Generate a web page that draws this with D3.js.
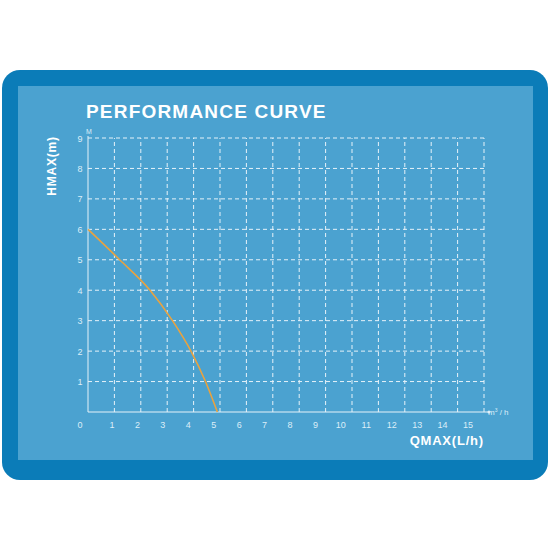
<!DOCTYPE html>
<html><head><meta charset="utf-8">
<script src="https://cdn.jsdelivr.net/npm/d3@7"></script>
<style>body{margin:0;background:#fff}</style>
</head><body>
<script>
let flow = [0, 1.2, 2.35, 3.2, 3.9, 4.45, 4.9];
let head = [6, 5, 4, 3, 2, 1, 0];
let xTicks = d3.range(0, 16);
let yTicks = d3.range(1, 10);

let svg = d3.select("body").append("svg").attr("width", 550).attr("height", 550);
svg.append("rect").attr("x", 2).attr("y", 70).attr("width", 546).attr("height", 410)
    .attr("rx", 18).attr("fill", "#0b7cb8");
svg.append("rect").attr("x", 18).attr("y", 86).attr("width", 515).attr("height", 374)
    .attr("fill", "#4ba2d0");

let x = d3.scaleLinear().domain([0, 15]).range([88, 484]);
let y = d3.scaleLinear().domain([0, 9]).range([412, 138]);
let xl = d3.scaleLinear().domain([1, 15]).range([112, 468]);
let g = svg.append("g");

g.selectAll(".vg").data(xTicks.slice(1)).enter().append("line")
    .attr("x1", d => x(d)).attr("x2", d => x(d)).attr("y1", y(0)).attr("y2", y(9))
    .attr("stroke", "#e6f2f9").attr("stroke-width", 1).attr("stroke-dasharray", "4,3");
g.selectAll(".hg").data(yTicks).enter().append("line")
    .attr("x1", x(0)).attr("x2", x(15)).attr("y1", d => y(d)).attr("y2", d => y(d))
    .attr("stroke", "#e6f2f9").attr("stroke-width", 1).attr("stroke-dasharray", "4,3");
g.append("line").attr("x1", x(0)).attr("x2", x(15) + 5).attr("y1", y(0)).attr("y2", y(0))
    .attr("stroke", "#e6f2f9");
g.append("line").attr("x1", x(0)).attr("x2", x(0)).attr("y1", y(0)).attr("y2", y(9) - 2)
    .attr("stroke", "#e6f2f9");
g.append("circle").attr("cx", x(15) + 5).attr("cy", y(0)).attr("r", 1.5).attr("fill", "#e6f2f9");

g.selectAll(".yl").data(yTicks).enter().append("text")
    .attr("x", 80).attr("y", d => y(d) + 3.5).attr("text-anchor", "middle")
    .attr("font-family", "Liberation Sans Narrow, Arial").attr("font-size", 9).attr("fill", "#dceef8")
    .text(d => d);
g.selectAll(".xl").data(xTicks).enter().append("text")
    .attr("x", d => d === 0 ? 80 : xl(d)).attr("y", 428).attr("text-anchor", "middle")
    .attr("font-family", "Liberation Sans Narrow, Arial").attr("font-size", 9).attr("fill", "#dceef8")
    .text(d => d);

let line = d3.line().x(d => x(d[0])).y(d => y(d[1])).curve(d3.curveMonotoneX);
g.append("path").datum(flow.map((f, i) => [f, head[i]])).attr("d", line)
    .attr("fill", "none").attr("stroke", "#e9a23f").attr("stroke-width", 1.6);

svg.append("text").attr("x", 86).attr("y", 118).attr("font-family", "Liberation Sans, Arial")
    .attr("font-weight", "bold").attr("font-size", 19).attr("letter-spacing", 1.2)
    .attr("fill", "#fff").text("PERFORMANCE CURVE");
svg.append("text").attr("transform", "translate(56,166) rotate(-90)").attr("text-anchor", "middle")
    .attr("font-family", "Liberation Sans, Arial").attr("font-weight", "bold").attr("font-size", 12)
    .attr("letter-spacing", 0.8).attr("fill", "#fff").text("HMAX(m)");
svg.append("text").attr("x", 86).attr("y", 134).attr("font-family", "Liberation Sans Narrow, Arial")
    .attr("font-size", 7).attr("fill", "#dceef8").text("M");
svg.append("text").attr("x", 488).attr("y", 415).attr("font-family", "Liberation Sans Narrow, Arial")
    .attr("font-size", 8).attr("fill", "#dceef8").html("m<tspan dy='-3' font-size='5'>3</tspan><tspan dy='3'> / h</tspan>");
svg.append("text").attr("x", 484).attr("y", 445).attr("text-anchor", "end")
    .attr("font-family", "Liberation Sans, Arial").attr("font-weight", "bold").attr("font-size", 13)
    .attr("letter-spacing", 0.8).attr("fill", "#fff").text("QMAX(L/h)");
</script>
</body></html>
